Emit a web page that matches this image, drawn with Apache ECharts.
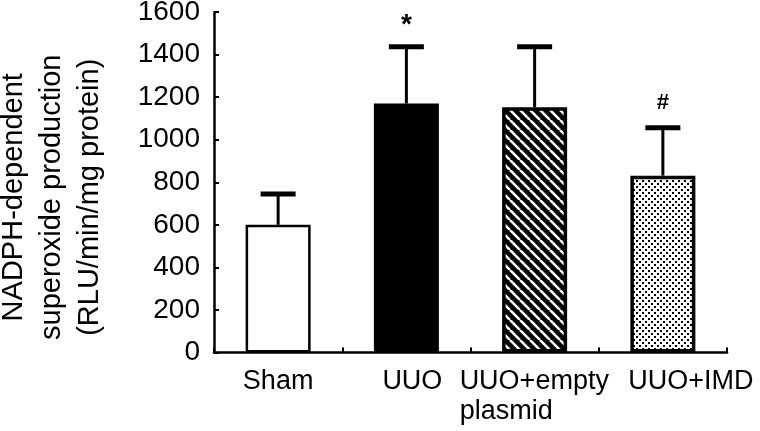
<!DOCTYPE html>
<html><head><meta charset="utf-8">
<script src="https://cdn.jsdelivr.net/npm/echarts@6/dist/echarts.min.js"></script>
<style>html,body{margin:0;padding:0;background:#fff}#c{width:760px;height:431px}</style>
</head><body><div id="c"></div>
<script>
const categories = ['Sham', 'UUO', 'UUO+empty\nplasmid', 'UUO+IMD'];
const means = [600, 1170, 1152, 831];
const upperErr = [745, 1437, 1437, 1056];
const sigMarks = ['', '*', '', '#'];
const yMin = 0, yMax = 1600, yInterval = 200;
const yTitle = 'NADPH-dependent\nsuperoxide production\n(RLU/min/mg protein)';

function hatchPattern() {
  const c = document.createElement('canvas');
  c.width = 10; c.height = 10;
  const g = c.getContext('2d');
  g.fillStyle = '#000'; g.fillRect(0, 0, 10, 10);
  g.strokeStyle = '#fff'; g.lineWidth = 2.6;
  for (let k = -1; k <= 1; k++) {
    g.beginPath(); g.moveTo(k * 10, 0); g.lineTo(k * 10 + 10, 10); g.stroke();
  }
  return c;
}
function dotPattern() {
  const c = document.createElement('canvas');
  c.width = 6; c.height = 6;
  const g = c.getContext('2d');
  g.fillStyle = '#fff'; g.fillRect(0, 0, 6, 6);
  g.fillStyle = '#000';
  g.fillRect(0, 0, 2, 2); g.fillRect(3, 3, 2, 2);
  return c;
}
const fills = ['#ffffff', '#000000', { image: hatchPattern(), repeat: 'repeat' }, { image: dotPattern(), repeat: 'repeat' }];
const borderW = [2.5, 2.5, 3.5, 3.5];

const chart = echarts.init(document.getElementById('c'), null, { renderer: 'canvas' });
const font = 'Liberation Sans, Arial, sans-serif';
chart.setOption({
  animation: false,
  backgroundColor: '#fff',
  grid: { left: 214, right: 33, top: 12, bottom: 78.5, containLabel: false, outerBoundsMode: 'none' },
  xAxis: {
    type: 'category',
    data: categories,
    axisLine: { lineStyle: { color: '#000', width: 2.5 } },
    axisTick: { show: true, inside: true, length: 5, interval: 0, lineStyle: { color: '#000', width: 2 } },
    axisLabel: {
      interval: 0, margin: 14, color: '#000', fontFamily: font, fontSize: 27, lineHeight: 30,
      formatter: function (v) {
        const parts = v.split('\n');
        if (parts.length > 1) return parts.map(p => '{l|' + p + '}').join('\n');
        if (v === 'UUO+IMD') return '{r|' + v + '}';
        if (v === 'UUO') return '{u|' + v + '}';
        return v;
      },
      rich: {
        l: { align: 'left', width: 150, fontSize: 27, fontFamily: font, color: '#000', lineHeight: 30 },
        r: { fontSize: 27, fontFamily: font, color: '#000', lineHeight: 30, padding: [0, 0, 0, 56] },
        u: { fontSize: 27, fontFamily: font, color: '#000', lineHeight: 30, padding: [0, 0, 0, 12] }
      }
    },
    splitLine: { show: false }
  },
  yAxis: {
    type: 'value', min: yMin, max: yMax, interval: yInterval,
    name: yTitle, nameLocation: 'middle', nameGap: 105, nameRotate: 90,
    nameTextStyle: { color: '#000', fontFamily: font, fontSize: 29, lineHeight: 38, padding: [0, 30, 0, 0] },
    axisLine: { show: true, lineStyle: { color: '#000', width: 2.5 } },
    axisTick: { show: true, inside: true, length: 5, lineStyle: { color: '#000', width: 2 } },
    axisLabel: { color: '#000', fontFamily: font, fontSize: 28, margin: 14, padding: [6, 0, 0, 0], formatter: v => String(v) },
    splitLine: { show: false }
  },
  series: [
    {
      type: 'bar', barWidth: 65,
      data: means.map((v, i) => ({ value: v, itemStyle: { color: fills[i], borderColor: '#000', borderWidth: borderW[i] } })),
      z: 2
    },
    {
      type: 'custom',
      data: means.map((m, i) => [i, m, upperErr[i], sigMarks[i]]),
      z: 3,
      renderItem: function (params, api) {
        const x = api.value(0);
        const base = api.coord([x, api.value(1)]);
        const top = api.coord([x, api.value(2)]);
        const capW = 35;
        const children = [
          { type: 'line', shape: { x1: base[0], y1: base[1], x2: top[0], y2: top[1] }, style: { stroke: '#000', lineWidth: 3 } },
          { type: 'line', shape: { x1: top[0] - capW / 2, y1: top[1], x2: top[0] + capW / 2, y2: top[1] }, style: { stroke: '#000', lineWidth: 5 } }
        ];
        const mark = sigMarks[params.dataIndex];
        if (mark) {
          const star = mark === '*';
          children.push({
            type: 'text',
            style: {
              text: mark, x: top[0], y: top[1] - (star ? 21 : 25),
              align: 'center', verticalAlign: 'middle',
              fill: '#000', font: (star ? 'bold 28px ' : 'bold 22px ') + font
            }
          });
        }
        return { type: 'group', children: children };
      }
    }
  ]
});
</script>
</body></html>
